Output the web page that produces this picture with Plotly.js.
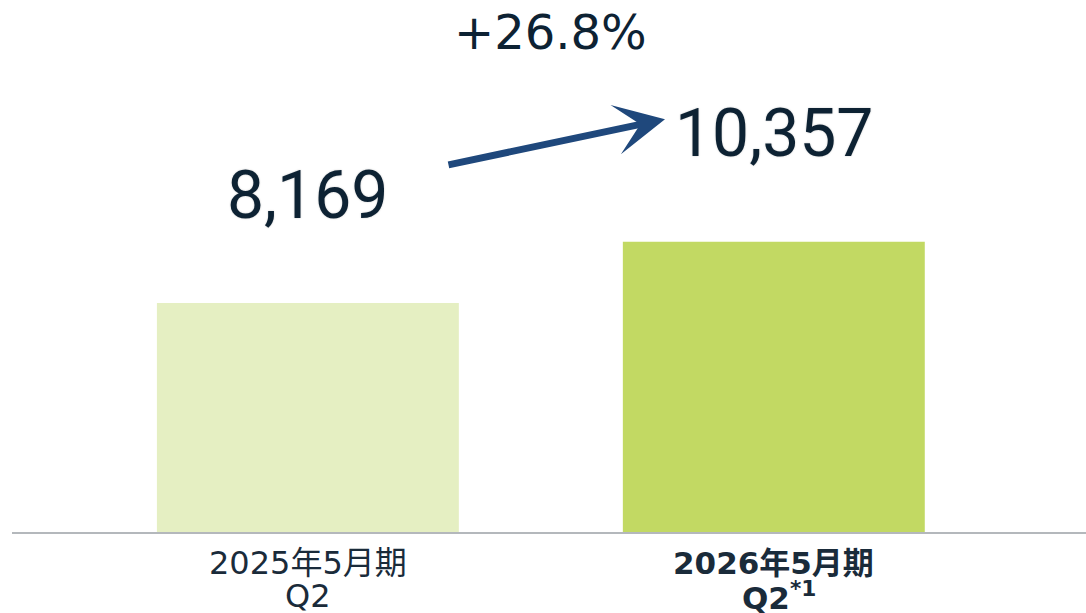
<!DOCTYPE html>
<html>
<head>
<meta charset="utf-8">
<script src="https://cdn.plot.ly/plotly-3.0.1.min.js"></script>
<style>html,body{margin:0;padding:0;background:#fff;}#chart{width:1086px;height:613px;}</style>
</head>
<body>
<div id="chart"></div>
<script>
const categoryLine1 = ["2025年5月期", "<b>2026年5月期</b>"];
const categoryLine2 = ["Q2", "<b>Q2<sup>*1</sup></b>"];
const values = [8169, 10357];
const valueLabels = ["8,169", "10,357"];
const barColors = ["#e5efc2", "#c2d963"];
const growthLabel = "+26.8%";

const xIdx = values.map((v, i) => i);

const trace = {
  type: "bar",
  x: xIdx,
  y: values,
  width: 0.648,
  marker: {color: barColors, line: {width: 0}},
  hoverinfo: "skip"
};

const tickFont = (i) => ({family: "DejaVu Sans, Noto Sans CJK JP, sans-serif", size: i === 0 ? 32 : 31, color: "#1a2b3a"});

const annotations = values.map((v, i) => ({
  x: i, y: v, xref: "x", yref: "y",
  text: valueLabels[i],
  showarrow: false,
  yanchor: "middle",
  yshift: 108,
  font: {family: "Roboto, sans-serif", size: 66, color: "#0d2233", shadow: "0px 0px 2px #c8c8c8"}
}));

categoryLine1.forEach((t, i) => annotations.push({
  x: i, y: 0, xref: "x", yref: "y", text: t, showarrow: false,
  yanchor: "middle", yshift: -31, font: tickFont(i)
}));
categoryLine2.forEach((t, i) => annotations.push({
  x: i, y: 0, xref: "x", yref: "y", text: t, showarrow: false,
  yanchor: "middle", yshift: -64, xshift: i === 1 ? 5 : 0, font: tickFont(i)
}));

annotations.push({
  x: 0.5, y: 1, xref: "paper", yref: "paper",
  text: growthLabel, showarrow: false,
  yanchor: "middle", xanchor: "center", yshift: -32, xshift: 1,
  font: {family: "DejaVu Sans, sans-serif", size: 48, color: "#0d2233"}
});

annotations.push({
  x: 0.608, y: 0.776, xref: "paper", yref: "paper",
  ax: -218, ay: 46, axref: "pixel", ayref: "pixel",
  showarrow: true, arrowhead: 3, arrowsize: 1.2, arrowwidth: 7,
  arrowcolor: "#1f487c", text: ""
});

const layout = {
  width: 1086, height: 613,
  margin: {l: 12, r: 0, t: 0, b: 81},
  paper_bgcolor: "#ffffff", plot_bgcolor: "#ffffff",
  showlegend: false,
  xaxis: {
    range: [-0.635, 1.67],
    tickmode: "array", tickvals: xIdx, showticklabels: false,
    showgrid: false, zeroline: false,
    showline: true, linecolor: "#b4b8bc", linewidth: 2,
    ticks: "", fixedrange: true
  },
  yaxis: {
    range: [0, 18980],
    visible: false, showgrid: false, zeroline: false, fixedrange: true
  },
  annotations: annotations
};

Plotly.newPlot("chart", [trace], layout, {displayModeBar: false, staticPlot: true});
</script>
</body>
</html>
